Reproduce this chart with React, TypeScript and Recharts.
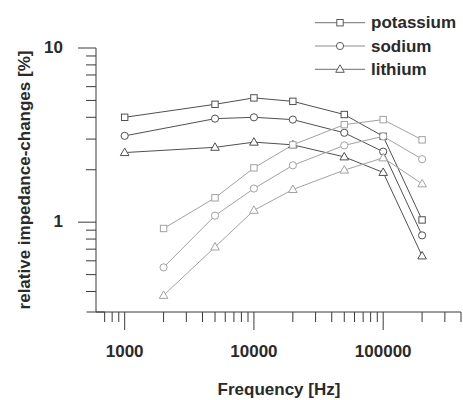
import React from "react";
import { LineChart, Line, XAxis, YAxis } from "recharts";

const frequencies = [1000, 2000, 5000, 10000, 20000, 50000, 100000, 200000];
const potassiumUpper = [4.0, null, 4.75, 5.17, 4.94, 4.15, 3.11, 1.03];
const sodiumUpper = [3.13, null, 3.93, 4.0, 3.88, 3.26, 2.54, 0.84];
const lithiumUpper = [2.51, null, 2.69, 2.88, 2.78, 2.37, 1.93, 0.64];
const potassiumLower = [null, 0.92, 1.38, 2.05, 2.78, 3.63, 3.88, 2.97];
const sodiumLower = [null, 0.55, 1.09, 1.56, 2.12, 2.76, 3.11, 2.3];
const lithiumLower = [null, 0.38, 0.72, 1.17, 1.54, 1.99, 2.34, 1.66];

const xTicks = [700, 800, 900, 1000, 2000, 3000, 4000, 5000, 6000, 7000, 8000, 9000, 10000, 20000, 30000, 40000, 50000, 60000, 70000, 80000, 90000, 100000, 200000, 300000, 400000];
const xMajor = [1000, 10000, 100000];
const yTicks = [0.4, 0.5, 0.6, 0.7, 0.8, 0.9, 1, 2, 3, 4, 5, 6, 7, 8, 9, 10];
const yMajor = [1, 10];
const legendNames = ["potassium", "sodium", "lithium"];
const legendShapes = ["square", "circle", "triangle"];

const data = frequencies.map((f, i) => ({
  f,
  kU: potassiumUpper[i],
  naU: sodiumUpper[i],
  liU: lithiumUpper[i],
  kL: potassiumLower[i],
  naL: sodiumLower[i],
  liL: lithiumLower[i],
}));

const DARK = "#505050";
const LIGHT = "#a2a2a2";
const AXIS = "#3a3a3a";
const TEXT = "#2a2a2a";
const FONT = "'Liberation Sans', Arial, sans-serif";

function Marker({ shape, cx, cy, color }: any) {
  if (cx == null || cy == null || isNaN(cx) || isNaN(cy)) return <g />;
  if (shape === "square")
    return <rect x={cx - 3.2} y={cy - 3.2} width={6.4} height={6.4} fill="#fff" stroke={color} strokeWidth={1} />;
  if (shape === "circle") return <circle cx={cx} cy={cy} r={3.6} fill="#fff" stroke={color} strokeWidth={1} />;
  return (
    <polygon
      points={`${cx},${cy - 4.5} ${cx - 4.3},${cy + 3} ${cx + 4.3},${cy + 3}`}
      fill="#fff"
      stroke={color}
      strokeWidth={1}
    />
  );
}

const dotFor = (shape: string, color: string) => (props: any) => (
  <Marker key={`${shape}-${color}-${props.index}`} shape={shape} cx={props.cx} cy={props.cy} color={color} />
);

function XTick({ x, y, payload, index }: any) {
  const major = xMajor.includes(payload.value);
  return (
    <g>
      {index === 0 && <line x1={86.5} x2={x} y1={y} y2={y} stroke={AXIS} strokeWidth={1} />}
      <line x1={x} x2={x} y1={y} y2={y + (major ? 18 : 10)} stroke={AXIS} strokeWidth={1} />
      {major && (
        <text x={x} y={y + 45} textAnchor="middle" fontSize={17} fontWeight="bold" fill={TEXT} fontFamily={FONT}>
          {payload.value}
        </text>
      )}
    </g>
  );
}

function YTick({ x, y, payload }: any) {
  const major = yMajor.includes(payload.value);
  return (
    <g>
      <line x1={x - (major ? 18 : 10)} x2={x} y1={y} y2={y} stroke={AXIS} strokeWidth={1} />
      {major && (
        <text x={x - 33} y={y + 5} textAnchor="end" fontSize={17} fontWeight="bold" fill={TEXT} fontFamily={FONT}>
          {payload.value}
        </text>
      )}
    </g>
  );
}

function Legend() {
  return (
    <svg width={463} height={90} style={{ position: "absolute", left: 0, top: 0 }}>
      {legendNames.map((n, i) => {
        const y = 22.7 + i * 23.3;
        return (
          <g key={n}>
            <line x1={315} x2={365} y1={y} y2={y} stroke="#8c8c8c" strokeWidth={1.2} />
            <Marker shape={legendShapes[i]} cx={340} cy={y} color="#5a5a5a" />
            <text x={371} y={y + 5.5} fontSize={17} fontWeight="bold" fill={TEXT} fontFamily={FONT}>
              {n}
            </text>
          </g>
        );
      })}
    </svg>
  );
}

export default function App() {
  const series = [
    { key: "kU", shape: "square", color: DARK },
    { key: "naU", shape: "circle", color: DARK },
    { key: "liU", shape: "triangle", color: DARK },
    { key: "kL", shape: "square", color: LIGHT },
    { key: "naL", shape: "circle", color: LIGHT },
    { key: "liL", shape: "triangle", color: LIGHT },
  ];
  return (
    <div style={{ position: "absolute", left: 0, top: 0, width: 463, height: 400, background: "#fff" }}>
      <LineChart width={463} height={400} data={data} margin={{ top: 48, right: 2, left: 0, bottom: 0 }}>
        <XAxis
          dataKey="f"
          type="number"
          scale="log"
          domain={[600, 400000]}
          allowDataOverflow
          ticks={xTicks}
          interval={0}
          tickSize={0}
          tickMargin={0}
          tickLine={false}
          tick={<XTick />}
          height={88}
          axisLine={{ stroke: AXIS, strokeWidth: 1 }}
          label={{
            value: "Frequency [Hz]",
            content: () => (
              <text x={279} y={395} textAnchor="middle" fontSize={17} fontWeight="bold" fill={TEXT} fontFamily={FONT}>
                Frequency [Hz]
              </text>
            ),
          }}
        />
        <YAxis
          type="number"
          scale="log"
          domain={[0.305, 10]}
          allowDataOverflow
          ticks={yTicks}
          interval={0}
          tickSize={0}
          tickMargin={0}
          tickLine={false}
          tick={<YTick />}
          width={96}
          axisLine={{ stroke: AXIS, strokeWidth: 1 }}
          label={{
            value: "relative impedance-changes [%]",
            content: () => (
              <text
                x={30}
                y={180}
                transform="rotate(-90 30 180)"
                textAnchor="middle"
                fontSize={17}
                fontWeight="bold"
                fill={TEXT}
                fontFamily={FONT}
              >
                relative impedance-changes [%]
              </text>
            ),
          }}
        />
        {series.map((s) => (
          <Line
            key={s.key}
            dataKey={s.key}
            type="linear"
            stroke={s.color}
            strokeWidth={1}
            connectNulls
            isAnimationActive={false}
            dot={dotFor(s.shape, s.color)}
            activeDot={false}
          />
        ))}
      </LineChart>
      <Legend />
    </div>
  );
}
